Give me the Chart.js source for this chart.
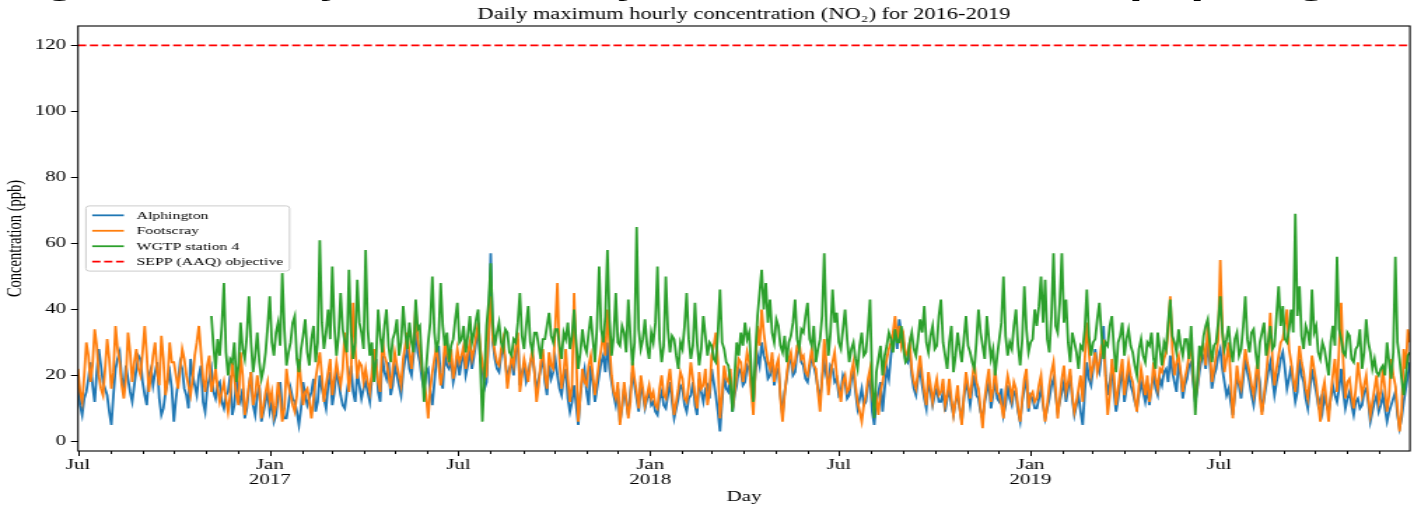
<!DOCTYPE html>
<html lang="en">
<head>
  <meta charset="UTF-8">
  <title>Daily maximum hourly concentration (NO2) for 2016-2019</title>
  <script src="https://cdn.jsdelivr.net/npm/chart.js"></script>
  <style>
    html, body { margin: 0; padding: 0; background: #fff; overflow: hidden; width: 1415px; height: 507px; }
    /* the source picture is stretched sideways, so the chart is drawn narrow and widened */
    .wrap { position: absolute; left: 0; top: 0; width: 1011px; height: 507px; transform: scaleX(1.4); transform-origin: 0 0; }
    .caption { position: absolute; left: 0; top: -37px; font: bold 36px/36px "Liberation Sans", Arial, sans-serif; white-space: nowrap; color: #000; }
  </style>
</head>
<body>
  <div class="wrap">
    <div class="caption">Figure 3: Daily_max hourly NO2 concentration (Alphington, Footscray and WGTP station 4)</div>
    <canvas id="grafico"></canvas>
  </div>

  <script>
    // day 0 = 1 Jul 2016, last day = 31 Dec 2019, one reading every 2 days
    const START = Date.UTC(2016, 6, 1);
    const END_DAY = 1278;
    const STEP = 2;
    const WGTP_START_DAY = 128;   // station 4 starts early Nov 2016
    const OBJECTIVE = 120;

    // one row per quarter (46 readings)
    const alphington = [
      20, 11, 8, 13, 15, 19, 24, 17, 12, 21, 28, 23, 18, 16, 14, 9, 5, 14, 22, 25, 27, 19, 16, 23, 19, 15, 12, 17, 22, 26, 25, 18, 14, 11, 20, 22, 17, 21, 24, 13, 8, 10, 15, 18, 21, 16,
      6, 13, 18, 24, 22, 16, 14, 10, 25, 20, 17, 14, 20, 23, 12, 9, 16, 19, 22, 15, 13, 17, 18, 12, 10, 14, 15, 20, 8, 11, 19, 14, 12, 16, 7, 10, 16, 21, 11, 8, 14, 17, 6, 9, 12, 15,
      9, 12, 6, 8, 14, 18, 10, 7, 7, 11, 16, 13, 12, 9, 5, 10, 18, 14, 11, 13, 15, 19, 9, 12, 20, 16, 13, 10, 17, 21, 11, 15, 22, 18, 14, 11, 10, 15, 19, 23, 15, 12, 21, 17, 13, 16,
      18, 15, 12, 19, 22, 25, 15, 12, 26, 21, 19, 24, 14, 17, 23, 20, 17, 14, 21, 25, 28, 22, 20, 26, 34, 27, 24, 19, 16, 21, 22, 15, 11, 18, 25, 29, 19, 16, 27, 23, 22, 25, 18, 21, 26, 20,
      24, 27, 20, 23, 28, 22, 26, 30, 34, 25, 22, 16, 18, 31, 57, 30, 25, 22, 21, 26, 29, 24, 19, 22, 24, 20, 27, 31, 17, 21, 23, 18, 20, 24, 26, 21, 15, 19, 22, 26, 18, 14, 24, 19, 21, 25,
      20, 16, 14, 19, 22, 13, 9, 12, 17, 11, 5, 14, 19, 22, 15, 11, 23, 18, 12, 16, 20, 24, 26, 21, 30, 22, 18, 14, 11, 16, 6, 10, 16, 12, 8, 15, 21, 17, 13, 9, 18, 14, 10, 13, 15, 11,
      12, 9, 8, 13, 15, 11, 10, 14, 18, 12, 7, 10, 13, 17, 16, 11, 9, 13, 14, 18, 11, 8, 19, 15, 12, 16, 17, 13, 22, 18, 14, 9, 3, 12, 20, 16, 15, 19, 9, 14, 17, 22, 21, 17, 18, 23,
      22, 17, 12, 21, 26, 23, 30, 26, 24, 19, 20, 25, 17, 21, 22, 14, 8, 15, 19, 24, 25, 20, 21, 27, 28, 24, 23, 19, 18, 22, 26, 23, 20, 16, 13, 19, 24, 20, 17, 23, 22, 18, 19, 14, 15, 20,
      18, 13, 14, 19, 21, 15, 10, 13, 16, 11, 12, 17, 19, 9, 5, 12, 15, 18, 9, 16, 22, 19, 26, 30, 34, 28, 37, 33, 30, 25, 24, 27, 20, 16, 14, 19, 22, 17, 13, 10, 18, 15, 11, 14, 16, 12,
      12, 15, 9, 13, 16, 11, 8, 12, 14, 10, 6, 13, 18, 15, 11, 16, 20, 14, 13, 9, 7, 12, 15, 18, 10, 14, 19, 13, 12, 16, 8, 11, 17, 13, 11, 15, 14, 9, 6, 12, 16, 19, 9, 14, 13, 10,
      10, 13, 16, 11, 7, 10, 13, 17, 19, 14, 9, 12, 15, 18, 12, 16, 20, 13, 8, 11, 14, 9, 5, 15, 24, 19, 17, 22, 28, 23, 21, 26, 35, 20, 14, 18, 22, 15, 9, 13, 18, 22, 12, 16, 21, 17,
      15, 12, 10, 14, 18, 15, 12, 16, 11, 17, 20, 16, 14, 19, 17, 21, 22, 18, 26, 21, 18, 15, 24, 20, 13, 17, 19, 23, 24, 18, 12, 16, 21, 25, 26, 22, 30, 24, 16, 20, 22, 26, 28, 22, 18, 14,
      16, 12, 8, 14, 20, 17, 13, 19, 25, 21, 18, 14, 11, 16, 22, 18, 9, 13, 17, 21, 24, 19, 14, 18, 21, 25, 27, 22, 16, 19, 23, 17, 12, 15, 25, 20, 18, 13, 10, 16, 22, 18, 15, 11, 13, 9,
      14, 11, 9, 13, 17, 14, 12, 16, 22, 15, 10, 13, 15, 11, 8, 12, 13, 10, 11, 15, 16, 12, 6, 9, 12, 14, 9, 11, 14, 10, 6, 9, 11, 13, 15, 8, 4, 7, 12, 16, 20, 24
    ];
    const footscray = [
      22, 15, 12, 20, 30, 26, 18, 23, 34, 29, 20, 16, 14, 22, 31, 25, 16, 21, 35, 28, 24, 17, 13, 19, 33, 27, 18, 24, 28, 22, 20, 27, 35, 26, 15, 20, 26, 30, 21, 17, 32, 25, 14, 19, 30, 24,
      24, 20, 16, 22, 28, 25, 20, 17, 14, 19, 26, 30, 35, 27, 19, 15, 23, 26, 15, 18, 22, 16, 12, 15, 18, 13, 9, 14, 24, 19, 14, 11, 27, 20, 8, 12, 17, 21, 11, 14, 20, 16, 7, 11, 15, 18,
      12, 15, 8, 11, 18, 13, 6, 10, 22, 17, 14, 11, 9, 14, 25, 18, 11, 15, 16, 12, 7, 13, 19, 23, 27, 20, 12, 17, 21, 25, 14, 19, 24, 20, 17, 22, 33, 25, 15, 21, 42, 28, 19, 24, 23, 18,
      22, 18, 15, 21, 28, 24, 18, 15, 31, 26, 24, 20, 16, 22, 27, 23, 20, 17, 25, 29, 33, 27, 22, 30, 40, 31, 27, 22, 18, 14, 7, 16, 21, 25, 29, 23, 17, 21, 30, 26, 24, 28, 19, 23, 28, 24,
      26, 29, 22, 27, 30, 25, 28, 32, 36, 28, 24, 19, 20, 33, 44, 31, 27, 24, 23, 28, 31, 25, 16, 21, 26, 23, 29, 33, 15, 20, 25, 22, 18, 24, 28, 21, 12, 17, 24, 28, 20, 16, 27, 23, 22, 35,
      48, 25, 16, 21, 28, 19, 12, 17, 45, 26, 6, 14, 22, 18, 17, 23, 26, 20, 14, 19, 24, 28, 33, 26, 40, 29, 20, 15, 13, 18, 5, 11, 18, 13, 7, 12, 24, 19, 15, 10, 20, 16, 11, 14, 17, 13,
      15, 11, 10, 16, 20, 14, 13, 18, 22, 15, 8, 12, 16, 21, 19, 13, 12, 17, 24, 19, 14, 10, 21, 16, 17, 22, 11, 15, 26, 29, 33, 24, 7, 14, 23, 19, 18, 22, 10, 15, 20, 25, 24, 18, 22, 27,
      24, 15, 8, 22, 35, 29, 40, 33, 28, 24, 22, 27, 18, 23, 25, 13, 6, 14, 20, 25, 27, 22, 24, 29, 30, 25, 26, 21, 20, 24, 28, 23, 22, 15, 9, 19, 31, 24, 14, 20, 24, 27, 20, 16, 12, 18,
      20, 15, 16, 21, 24, 17, 12, 9, 6, 11, 14, 19, 22, 14, 10, 13, 8, 15, 18, 22, 25, 28, 30, 33, 38, 31, 35, 29, 32, 26, 27, 30, 22, 18, 16, 21, 26, 20, 15, 11, 21, 17, 12, 16, 19, 14,
      15, 19, 11, 14, 19, 13, 8, 12, 17, 10, 5, 14, 21, 17, 13, 19, 24, 18, 16, 10, 4, 13, 18, 22, 12, 16, 22, 15, 14, 11, 7, 15, 20, 17, 13, 18, 16, 10, 6, 13, 19, 22, 10, 14, 15, 12,
      13, 17, 20, 12, 6, 11, 17, 21, 24, 16, 7, 13, 19, 23, 15, 18, 22, 14, 9, 12, 16, 20, 12, 25, 36, 27, 20, 23, 27, 21, 24, 29, 30, 19, 8, 14, 25, 20, 11, 16, 21, 25, 14, 19, 24, 20,
      18, 13, 9, 17, 22, 18, 14, 20, 12, 16, 24, 19, 16, 22, 21, 25, 27, 33, 44, 28, 20, 24, 26, 21, 15, 19, 22, 26, 28, 20, 13, 17, 24, 28, 29, 23, 36, 27, 18, 22, 26, 31, 55, 34, 21, 25,
      30, 19, 7, 15, 23, 18, 16, 22, 28, 24, 21, 17, 14, 20, 25, 13, 8, 14, 20, 27, 39, 25, 17, 22, 26, 30, 31, 35, 40, 28, 24, 19, 15, 22, 29, 24, 21, 16, 13, 19, 26, 22, 18, 12, 6, 15,
      18, 12, 6, 14, 20, 25, 15, 28, 42, 24, 13, 18, 19, 14, 10, 16, 24, 19, 14, 17, 20, 13, 8, 12, 16, 20, 12, 15, 22, 16, 9, 14, 25, 20, 17, 10, 3, 9, 28, 22, 34, 30
    ];
    const wgtp4 = [
      38, 29, 22, 31, 26, 35, 48, 27, 20, 25, 24, 30, 18, 23, 36, 28, 25, 32, 44, 30, 21, 26, 33, 24, 19, 22, 27, 35,
      44, 30, 26, 33, 36, 29, 51, 34, 23, 27, 30, 36, 38, 25, 21, 28, 32, 37, 27, 23, 31, 35, 24, 30, 61, 36, 28, 33, 40, 31, 53, 35, 26, 32, 45, 34, 30, 27, 52, 33, 25, 30, 49, 36, 33, 28,
      58, 34, 26, 30, 18, 25, 40, 32, 27, 35, 40, 29, 24, 31, 33, 37, 26, 30, 41, 33, 28, 36, 30, 27, 43, 34, 35, 24, 12, 22, 30, 36, 50, 33, 27, 31, 48, 35, 29, 33, 24, 29, 31, 37, 42, 30,
      31, 35, 27, 32, 38, 30, 33, 37, 40, 24, 6, 20, 35, 42, 54, 36, 29, 33, 36, 30, 28, 34, 33, 27, 26, 31, 30, 36, 45, 32, 28, 35, 41, 30, 27, 33, 33, 29, 25, 31, 31, 35, 39, 32, 30, 34,
      34, 29, 25, 33, 31, 36, 28, 32, 40, 30, 22, 27, 34, 29, 27, 33, 38, 31, 24, 35, 53, 34, 30, 38, 58, 37, 26, 32, 45, 30, 29, 35, 33, 27, 43, 32, 23, 30, 65, 34, 28, 31, 37, 29, 25, 33,
      30, 36, 53, 31, 24, 29, 50, 34, 27, 32, 31, 26, 22, 30, 28, 35, 45, 31, 25, 29, 42, 30, 23, 28, 38, 32, 26, 30, 29, 25, 24, 33, 46, 30, 28, 24, 23, 18, 9, 20, 30, 26, 33, 29, 36, 31,
      33, 22, 12, 27, 38, 45, 52, 40, 48, 36, 43, 33, 30, 37, 35, 29, 27, 32, 24, 30, 32, 36, 43, 31, 28, 34, 33, 38, 42, 31, 29, 35, 24, 28, 31, 38, 57, 35, 26, 33, 46, 36, 39, 30, 28, 34,
      40, 31, 24, 28, 30, 25, 22, 29, 33, 26, 27, 34, 43, 18, 7, 21, 25, 29, 20, 26, 29, 33, 31, 27, 34, 30, 30, 35, 28, 24, 25, 30, 33, 28, 26, 31, 37, 33, 41, 30, 27, 32, 35, 28, 29, 38,
      43, 30, 26, 22, 30, 35, 21, 26, 33, 28, 24, 31, 38, 29, 27, 24, 22, 30, 40, 33, 29, 25, 38, 31, 25, 28, 20, 26, 31, 36, 50, 32, 26, 30, 28, 35, 40, 29, 23, 31, 47, 34, 27, 30, 31, 40,
      35, 41, 50, 36, 49, 31, 27, 38, 57, 35, 33, 42, 57, 36, 43, 30, 24, 33, 30, 27, 22, 29, 28, 34, 46, 32, 26, 30, 31, 37, 42, 33, 25, 30, 29, 35, 38, 28, 21, 30, 32, 36, 26, 31, 34, 29,
      27, 23, 20, 28, 31, 26, 24, 30, 29, 33, 25, 22, 33, 28, 23, 30, 28, 36, 43, 32, 30, 27, 34, 29, 26, 31, 31, 25, 35, 22, 8, 19, 29, 26, 32, 35, 37, 30, 24, 29, 30, 36, 44, 33, 28, 31,
      35, 28, 24, 31, 33, 26, 28, 35, 44, 31, 27, 33, 34, 27, 22, 30, 33, 36, 26, 30, 35, 28, 29, 38, 47, 35, 41, 31, 30, 34, 40, 33, 69, 38, 47, 32, 28, 35, 33, 29, 46, 33, 35, 27, 25, 30,
      28, 24, 20, 30, 35, 29, 56, 34, 31, 27, 26, 33, 32, 25, 24, 28, 29, 34, 22, 27, 37, 30, 27, 22, 25, 21, 20, 22, 23, 20, 30, 24, 19, 27, 56, 30, 25, 19, 14, 20, 26, 27
    ];

    const Y_TICKS = [0, 20, 40, 60, 80, 100, 120];
    const Y_MIN = -2.9, Y_MAX = 125.9;
    const MONTH_LABELS = { 0: 'Jan', 6: 'Jul' };

    const SERIF = '"Liberation Serif", "Times New Roman", Times, serif';
    const COLORS = { alphington: '#1f77b4', footscray: '#ff7f0e', wgtp4: '#2ca02c', objective: '#ff0000' };
    const DASH = [5.9, 2.6];

    // month ticks, labelled at Jan and Jul
    const xTicks = [];
    for (let yr = 2016; yr <= 2019; yr++) {
      for (let m = 0; m < 12; m++) {
        const day = (Date.UTC(yr, m, 1) - START) / 86400000;
        if (day < 0 || day > END_DAY) continue;
        let label = '';
        if (m === 0) label = [MONTH_LABELS[0], String(yr)];
        if (m === 6) label = MONTH_LABELS[6];
        xTicks.push({ day: day, major: m === 0 || m === 6, label: label });
      }
    }

    const toPoints = (arr, first) => arr.map((v, i) => ({ x: first + i * STEP, y: v }));

    // box around the axes, small/large x ticks and the framed legend inside the plot
    const framePlugin = {
      id: 'frame',
      afterDraw(chart) {
        const { ctx, chartArea: a, scales } = chart;
        ctx.save();
        ctx.strokeStyle = '#000';
        ctx.lineWidth = 1;
        xTicks.forEach(t => {
          const px = Math.round(scales.x.getPixelForValue(t.day)) + 0.5;
          ctx.beginPath();
          ctx.moveTo(px, a.bottom);
          ctx.lineTo(px, a.bottom + (t.major ? 5 : 3));
          ctx.stroke();
        });
        ctx.lineWidth = 1.1;
        ctx.strokeRect(a.left, a.top, a.right - a.left, a.bottom - a.top);

        // legend
        const fs = 11.3;
        const rowH = 9.8, gap = fs * 0.5, pad = fs * 0.4;
        const handle = fs * 2, textPad = fs * 0.8;
        const sets = chart.data.datasets;
        ctx.font = fs + 'px ' + SERIF;
        const textW = Math.max(...sets.map(d => ctx.measureText(d.label).width));
        const w = pad * 2 + handle + textPad + textW;
        const h = pad * 2 + sets.length * rowH + (sets.length - 1) * gap;
        const x0 = a.left + fs * 0.5;
        const y0 = (a.top + a.bottom) / 2 - h / 2;
        ctx.beginPath();
        ctx.roundRect(x0, y0, w, h, 2.5);
        ctx.fillStyle = 'rgba(255,255,255,0.8)';
        ctx.fill();
        ctx.strokeStyle = '#cccccc';
        ctx.lineWidth = 1;
        ctx.stroke();
        ctx.textBaseline = 'middle';
        sets.forEach((d, i) => {
          const cy = y0 + pad + rowH / 2 + i * (rowH + gap);
          ctx.beginPath();
          ctx.setLineDash(d.borderDash || []);
          ctx.strokeStyle = d.borderColor;
          ctx.lineWidth = d.borderWidth;
          ctx.moveTo(x0 + pad, cy);
          ctx.lineTo(x0 + pad + handle, cy);
          ctx.stroke();
          ctx.setLineDash([]);
          ctx.fillStyle = '#000';
          ctx.fillText(d.label, x0 + pad + handle + textPad, cy + 0.5);
        });
        ctx.restore();
      }
    };

    Chart.defaults.font.family = SERIF;
    Chart.defaults.color = '#000';

    const ctx = document.getElementById('grafico').getContext('2d');
    new Chart(ctx, {
      type: 'line',
      data: {
        datasets: [
          { label: 'Alphington', data: toPoints(alphington, 0), borderColor: COLORS.alphington, borderWidth: 1.8, order: 3 },
          { label: 'Footscray', data: toPoints(footscray, 0), borderColor: COLORS.footscray, borderWidth: 1.8, order: 2 },
          { label: 'WGTP station 4', data: toPoints(wgtp4, WGTP_START_DAY), borderColor: COLORS.wgtp4, borderWidth: 1.8, order: 1 },
          { label: 'SEPP (AAQ) objective', data: [{ x: 0, y: OBJECTIVE }, { x: END_DAY, y: OBJECTIVE }],
            borderColor: COLORS.objective, borderWidth: 1.8, borderDash: DASH, order: 0 }
        ]
      },
      options: {
        responsive: true,
        maintainAspectRatio: false,
        animation: false,
        elements: { point: { radius: 0 }, line: { tension: 0 } },
        layout: { padding: { left: 0, right: 3.9, top: 0, bottom: 0 } },
        plugins: {
          legend: { display: false },
          tooltip: { enabled: false },
          title: {
            display: true,
            text: 'Daily maximum hourly concentration (NO\u2082) for 2016-2019',
            fullSize: false,
            color: '#000',
            font: { family: SERIF, size: 16, weight: 'normal' },
            padding: { top: 5.4, bottom: 1.4 }
          }
        },
        scales: {
          x: {
            type: 'linear',
            min: 0,
            max: END_DAY,
            afterBuildTicks: s => { s.ticks = xTicks.map(t => ({ value: t.day })); },
            afterFit: s => { s.height = 56; },
            grid: { display: false, drawTicks: false },
            border: { display: false },
            ticks: {
              autoSkip: false,
              maxRotation: 0,
              padding: 7,
              font: { size: 15, lineHeight: 1.0 },
              callback: (v) => { const t = xTicks.find(k => k.day === v); return t ? t.label : ''; }
            },
            title: { display: true, text: 'Day', font: { size: 15 }, padding: { top: 0, bottom: 1 } }
          },
          y: {
            min: Y_MIN,
            max: Y_MAX,
            afterBuildTicks: s => { s.ticks = Y_TICKS.map(v => ({ value: v })); },
            afterFit: s => { s.width = 55.7; },
            grid: { drawOnChartArea: false, tickLength: 5, color: '#000' },
            border: { display: false },
            ticks: { padding: 3.5, font: { size: 15 } },
            title: { display: true, text: 'Concentration (ppb)', font: { size: 14.5 }, padding: { top: 2.7, bottom: 0 } }
          }
        }
      },
      plugins: [framePlugin]
    });
  </script>
</body>
</html>
